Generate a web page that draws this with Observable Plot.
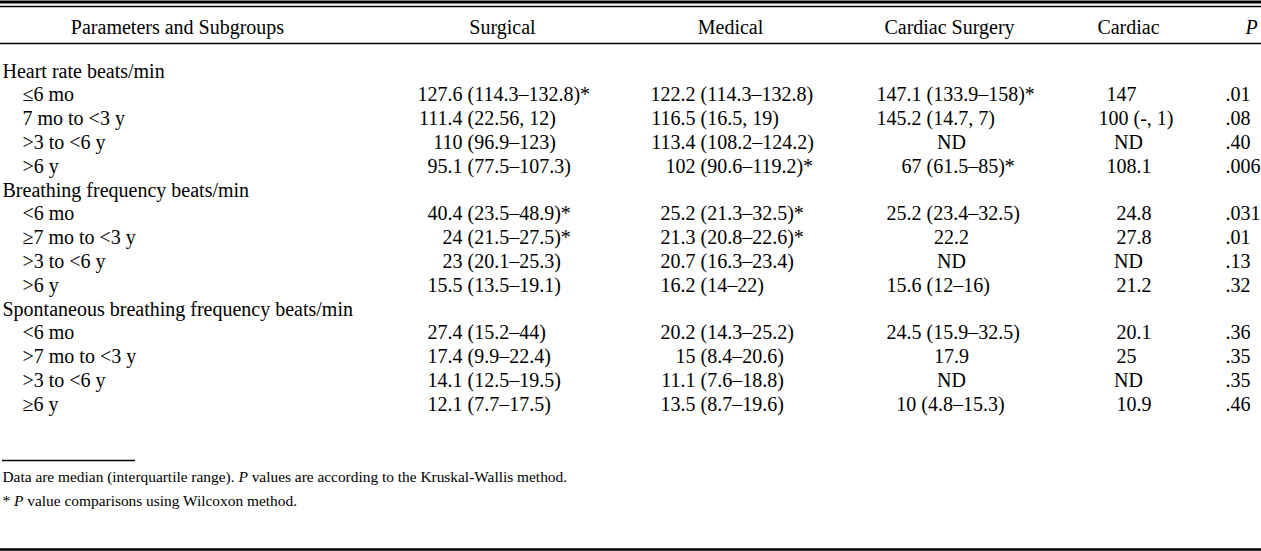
<!DOCTYPE html>
<html><head><meta charset="utf-8">
<script src="https://cdn.jsdelivr.net/npm/d3@7"></script>
<script src="https://cdn.jsdelivr.net/npm/@observablehq/plot@0.6"></script>
<style>html,body{margin:0;padding:0;background:#fff;overflow:hidden}</style>
</head><body><div id="chart"></div>
<script>
// ---------- data ----------
const headers = ["Parameters and Subgroups", "Surgical", "Medical", "Cardiac Surgery", "Cardiac", "P"];
const groups = ["Heart rate beats/min", "Breathing frequency beats/min", "Spontaneous breathing frequency beats/min"];
const subgroups = [
  ["≤6 mo", "7 mo to <3 y", ">3 to <6 y", ">6 y"],
  ["<6 mo", "≥7 mo to <3 y", ">3 to <6 y", ">6 y"],
  ["<6 mo", ">7 mo to <3 y", ">3 to <6 y", "≥6 y"]
];
const surgical = ["127.6 (114.3–132.8)*", "111.4 (22.56, 12)", "110 (96.9–123)", "95.1 (77.5–107.3)",
  "40.4 (23.5–48.9)*", "24 (21.5–27.5)*", "23 (20.1–25.3)", "15.5 (13.5–19.1)",
  "27.4 (15.2–44)", "17.4 (9.9–22.4)", "14.1 (12.5–19.5)", "12.1 (7.7–17.5)"];
const medical = ["122.2 (114.3–132.8)", "116.5 (16.5, 19)", "113.4 (108.2–124.2)", "102 (90.6–119.2)*",
  "25.2 (21.3–32.5)*", "21.3 (20.8–22.6)*", "20.7 (16.3–23.4)", "16.2 (14–22)",
  "20.2 (14.3–25.2)", "15 (8.4–20.6)", "11.1 (7.6–18.8)", "13.5 (8.7–19.6)"];
const cardiacSurgery = ["147.1 (133.9–158)*", "145.2 (14.7, 7)", "ND", "67 (61.5–85)*",
  "25.2 (23.4–32.5)", "22.2", "ND", "15.6 (12–16)",
  "24.5 (15.9–32.5)", "17.9", "ND", "10 (4.8–15.3)"];
const cardiac = ["147", "100 (-, 1)", "ND", "108.1", "24.8", "27.8", "ND", "21.2", "20.1", "25", "ND", "10.9"];
const pValues = [".01", ".08", ".40", ".006", ".031", ".01", ".13", ".32", ".36", ".35", ".35", ".46"];
const footnotes = [
  "Data are median (interquartile range). P values are according to the Kruskal-Wallis method.",
  "* P value comparisons using Wilcoxon method."
];

// ---------- layout (positions / sizes / styles) ----------
const W = 1261, H = 551;
const FONT = "'Liberation Serif', 'Times New Roman', serif";
const SIZE = 20, NOTE_SIZE = 15.4, SPACE = 5;
const layout = {
  headerY: 33, row0: 77, rowStep: 23.8,
  groupX: 2, subX: 22,
  headX: [177, 502, 730, 949, 1128, 1251],
  cols: [
    {values: surgical, paren: 467, center: 502},
    {values: medical, paren: 700, center: 730},
    {values: cardiacSurgery, paren: 926, center: 951, centered: [11], centerAt: 950},
    {values: cardiac, paren: 1133, center: 1128, decimal: 1136},
    {values: pValues, start: 1225}
  ],
  rules: [
    {y: 1.5, x1: 0, x2: W, w: 3},
    {y: 6, x1: 0, x2: W, w: 1.3},
    {y: 43, x1: 0, x2: W, w: 1.3},
    {y: 460, x1: 2, x2: 135, w: 1.3},
    {y: 549, x1: 0, x2: W, w: 2.5}
  ],
  noteX: 2, noteY: [481, 505]
};

// ---------- build table cells ----------
const rowY = i => layout.row0 + i * layout.rowStep;
const labels = [];   // left column
const cells = [];    // {x, y, text, anchor}
let r = 0, k = 0;
groups.forEach((g, gi) => {
  labels.push({x: layout.groupX, y: rowY(r++), text: g});
  subgroups[gi].forEach(s => {
    labels.push({x: layout.subX, y: rowY(r), text: s});
    layout.cols.forEach(c => {
      const v = c.values[k];
      const y = rowY(r);
      if (c.start != null) { cells.push({x: c.start, y, text: v, anchor: "start"}); return; }
      if (c.centered && c.centered.includes(k)) { cells.push({x: c.centerAt, y, text: v, anchor: "middle"}); return; }
      const p = v.indexOf(" (");
      if (p >= 0) {
        cells.push({x: c.paren - SPACE, y, text: v.slice(0, p), anchor: "end"});
        cells.push({x: c.paren, y, text: v.slice(p + 1), anchor: "start"});
      } else if (c.decimal != null && /^[0-9.]+$/.test(v)) {
        const d = v.indexOf(".");
        const ip = d >= 0 ? v.slice(0, d) : v;
        cells.push({x: c.decimal, y, text: ip, anchor: "end"});
        if (d >= 0) cells.push({x: c.decimal, y, text: v.slice(d), anchor: "start"});
      } else {
        cells.push({x: c.center, y, text: v, anchor: "middle"});
      }
    });
    r++; k++;
  });
});
const heads = headers.map((h, i) => ({x: layout.headX[i], y: layout.headerY, text: h, italic: h === "P"}));
const notes = footnotes.map((t, i) => ({x: layout.noteX, y: layout.noteY[i], text: t}));

const textOpts = {x: "x", y: "y", text: "text", fill: "black", lineAnchor: "bottom", fontSize: SIZE};
const chart = Plot.plot({
  width: W, height: H,
  margin: 0,
  style: {fontFamily: FONT, background: "white", color: "black"},
  x: {type: "linear", domain: [0, W], range: [0, W], axis: null},
  y: {type: "linear", domain: [0, H], range: [0, H], axis: null},
  marks: [
    Plot.ruleY(layout.rules, {y: "y", x1: "x1", x2: "x2", strokeWidth: "w", stroke: "black"}),
    Plot.text(heads.filter(d => !d.italic), {...textOpts, textAnchor: "middle"}),
    Plot.text(heads.filter(d => d.italic), {...textOpts, textAnchor: "middle", fontStyle: "italic"}),
    Plot.text(labels, {...textOpts, textAnchor: "start"}),
    Plot.text(cells.filter(d => d.anchor === "start"), {...textOpts, textAnchor: "start"}),
    Plot.text(cells.filter(d => d.anchor === "end"), {...textOpts, textAnchor: "end"}),
    Plot.text(cells.filter(d => d.anchor === "middle"), {...textOpts, textAnchor: "middle"}),
    Plot.text(notes, {...textOpts, textAnchor: "start", fontSize: NOTE_SIZE})
  ]
});
// italic "P" inside footnotes
chart.querySelectorAll("text").forEach(t => {
  const s = t.textContent;
  if (s === footnotes[0] || s === footnotes[1]) {
    const i = s.indexOf("P value");
    const before = s.slice(0, i), after = s.slice(i + 1);
    t.textContent = "";
    const ns = "http://www.w3.org/2000/svg";
    const a = document.createElementNS(ns, "tspan"); a.textContent = before;
    const b = document.createElementNS(ns, "tspan"); b.textContent = "P"; b.setAttribute("font-style", "italic");
    const c = document.createElementNS(ns, "tspan"); c.textContent = after;
    t.append(a, b, c);
  }
});
document.getElementById("chart").appendChild(chart);
</script>
</body></html>
